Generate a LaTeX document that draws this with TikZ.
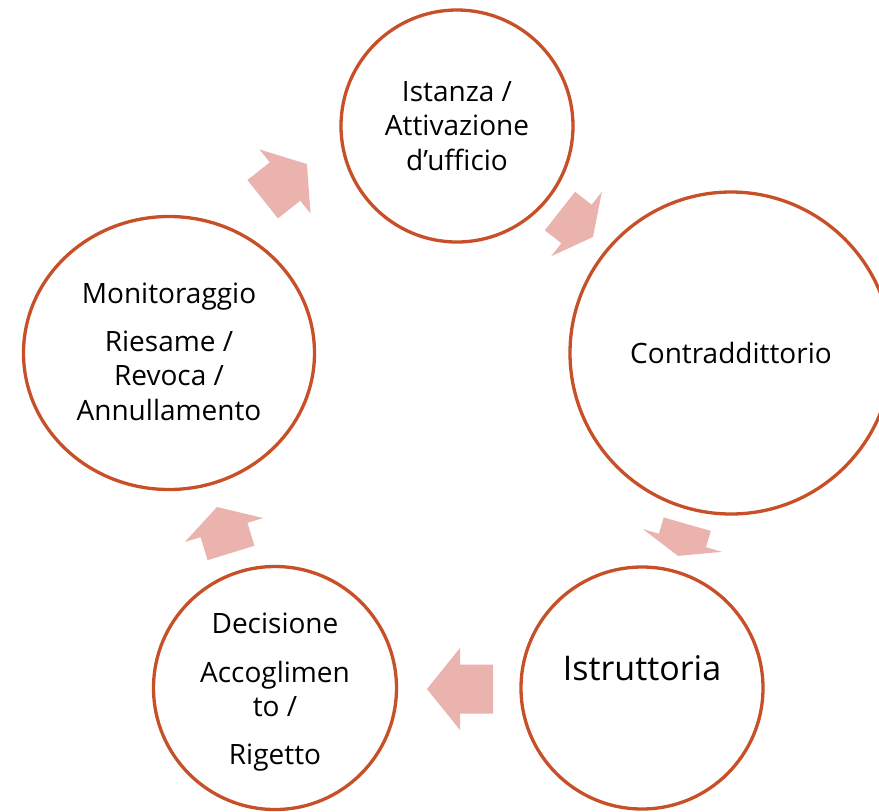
\documentclass[tikz,border=0pt]{standalone}
\usepackage{fontspec}
\setmainfont{Open Sans}
\usetikzlibrary{shapes.geometric}
\definecolor{ringc}{RGB}{200,80,40}
\definecolor{arrc}{RGB}{235,179,173}
\newcommand\blockarr[5]{%
  \fill[arrc, shift={(#1,#2)}, rotate=#3]
    (-#4,-24.5) -- (0,-24.5) -- (0,-41) -- (#5,0) -- (0,41) -- (0,24.5) -- (-#4,24.5) -- cycle;}
\begin{document}
\begin{tikzpicture}[x=1pt,y=-1pt,
  ring/.style={circle, draw=ringc, line width=3.3pt, inner sep=0pt, align=center,
    font=\fontsize{28}{34.5}\selectfont, text=black},
  txt/.style={align=center, font=\fontsize{28}{34.5}\selectfont, text=black}]
\useasboundingbox (0,0) rectangle (879,812);
\clip (0,0) rectangle (879,812);
\fill[white] (0,0) rectangle (879,812);
% circles
\node[ring, minimum size=232pt] (n1) at (457,126) {Istanza /\\ Attivazione\\ d’ufficio};
\node[ring, minimum size=322pt] (n2) at (731,353) {Contraddittorio};
\node[ring, minimum size=242pt] (n3) at (642,688) {};
\node[font=\fontsize{34}{40}\selectfont] (t3) at (642,668) {Istruttoria};
\node[ring, minimum size=243pt] (n4) at (275,688) {};
\node[txt] (t4) at (275,692) {Decisione\\[14pt] Accoglimen\\ to /\\[13pt] Rigetto};
\node[ring, ellipse, minimum width=291pt, minimum height=273pt] (n5) at (169,353) {};
\node[txt] (t5) at (169,352) {Monitoraggio\\[13pt] Riesame /\\ Revoca /\\ Annullamento};
% block arrows: x, y (head base mid), angle, shaft length, head length
\blockarr{285}{181.5}{38.5}{28.5}{28}
\blockarr{576.5}{224}{-38.2}{21}{21}
\blockarr{682.5}{540.5}{-106}{17}{16}
\blockarr{460}{689}{180}{33}{33}
\blockarr{224}{530}{107}{24}{24}
\end{tikzpicture}
\end{document}
